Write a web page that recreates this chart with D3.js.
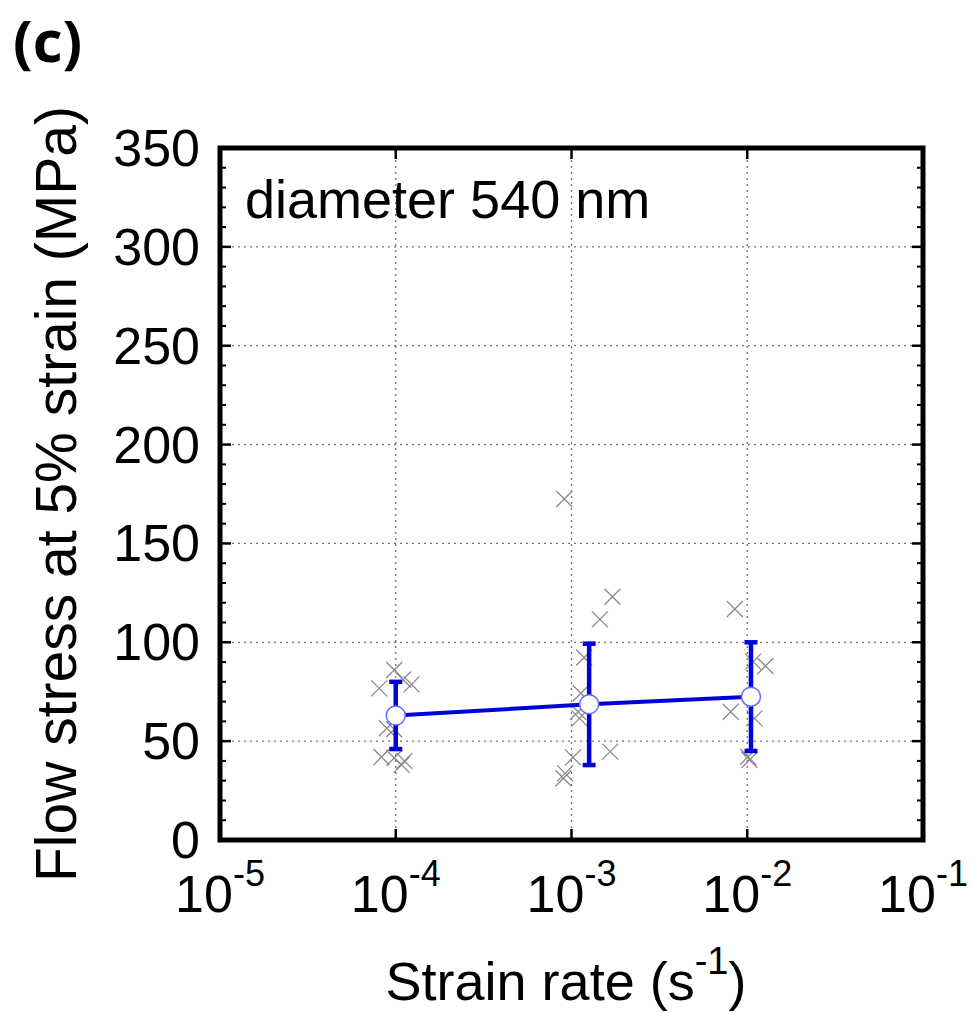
<!DOCTYPE html>
<html>
<head>
<meta charset="utf-8">
<script src="https://cdn.jsdelivr.net/npm/d3@7"></script>
<style>
    body { margin: 0; background: #fff; }
    svg text { font-family: "Liberation Sans", Arial, sans-serif; fill: #000; }
    .grid line { stroke: #707070; stroke-width: 1.3; stroke-dasharray: 2,4; }
    .spine { fill: none; stroke: #000; stroke-width: 5; }
    .tick-mark { stroke: #000; }
    .cross { stroke: #8a8a8a; stroke-width: 1.3; }
    .mean.line { fill: none; stroke: #0000d8; stroke-width: 4; }
    .errorbar { stroke: #0000d8; stroke-width: 4.5; }
    .mean.circle { fill: #fff; stroke: #6a6aff; stroke-width: 1.5; }
</style>
</head>
<body>
<svg id="chart" width="974" height="1013"></svg>
<script>
// individual tests (strain rate in 1/s, flow stress in MPa)
const rates = [
    8.05e-5, 9.8e-5, 1.10e-4, 1.23e-4, 8.9e-5, 9.8e-5, 8.3e-5, 9.8e-5, 1.08e-4, 1.12e-4,
    9.1e-4, 1.71e-3, 1.45e-3, 1.18e-3, 1.13e-3, 1.09e-3, 1.11e-3, 1.66e-3, 1.02e-3, 9.2e-4, 9.0e-4,
    8.5e-3, 1.08e-2, 1.27e-2, 8.05e-3, 1.10e-2, 1.01e-2, 1.03e-2
];
const stresses = [
    76.7, 86, 81.2, 78.7, 56.5, 56, 42, 41.5, 38, 40,
    172.5, 123, 111.6, 92.3, 74.2, 64.9, 61.5, 44.7, 41.8, 33.7, 31.2,
    116.8, 90.2, 88, 64.9, 61.5, 42.1, 40.5
];

// averages with error bars
const meanRates = [1.0e-4, 1.26e-3, 1.05e-2];
const meanStress = [63, 68.6, 72.5];
const stressErr = [17, 30.7, 27.5];

const xTickExps = [-5, -4, -3, -2, -1];
const yTicks = [0, 50, 100, 150, 200, 250, 300, 350];
const yMinorTicks = d3.range(0, 351, 10);
const annotation = "diameter 540 nm";

const margin = {top: 148, right: 51, bottom: 173, left: 220};
const width = 974 - margin.left - margin.right;
const height = 1013 - margin.top - margin.bottom;

const svg = d3.select("#chart");
const chart = svg.append("g").attr("transform", "translate(" + margin.left + "," + margin.top + ")");

const x = d3.scaleLog().domain([1e-5, 1e-1]).range([0, width]);
const y = d3.scaleLinear().domain([0, 350]).range([height, 0]);

// grid (dotted) at the inner major ticks
const grid = chart.append("g").attr("class", "grid");
grid.selectAll(".gx").data(xTickExps.slice(1, -1)).enter().append("line")
    .attr("x1", d => x(Math.pow(10, d))).attr("x2", d => x(Math.pow(10, d)))
    .attr("y1", 0).attr("y2", height);
grid.selectAll(".gy").data(yTicks.slice(1, -1)).enter().append("line")
    .attr("x1", 0).attr("x2", width)
    .attr("y1", d => y(d)).attr("y2", d => y(d));

// ticks point inward on all four sides
const ticks = chart.append("g");
yMinorTicks.forEach(v => {
    const major = v % 50 === 0;
    const len = major ? 11 : 6;
    [[0, len], [width, width - len]].forEach(p => {
        ticks.append("line").attr("class", "tick-mark")
            .attr("x1", p[0]).attr("x2", p[1]).attr("y1", y(v)).attr("y2", y(v))
            .attr("stroke-width", major ? 2.5 : 2);
    });
});
xTickExps.forEach(e => {
    const px = x(Math.pow(10, e));
    [[height, height - 11], [0, 11]].forEach(p => {
        ticks.append("line").attr("class", "tick-mark")
            .attr("x1", px).attr("x2", px).attr("y1", p[0]).attr("y2", p[1])
            .attr("stroke-width", 2.5);
    });
});

// tick labels
chart.append("g").selectAll("text").data(yTicks).enter().append("text")
    .attr("x", -20).attr("y", d => y(d))
    .attr("text-anchor", "end").attr("dominant-baseline", "central")
    .style("font-size", "52px")
    .text(d => d);

const xl = chart.append("g").selectAll("text").data(xTickExps).enter().append("text")
    .attr("x", d => x(Math.pow(10, d))).attr("y", height + 72)
    .attr("text-anchor", "middle")
    .style("font-size", "52px");
xl.append("tspan").text("10");
xl.append("tspan").attr("dy", -26).style("font-size", "36px").text(d => String(d));

// individual measurements
const cross = 8;
chart.append("g").selectAll("path").data(rates).enter().append("path")
    .attr("class", "cross")
    .attr("d", (d, i) => {
        const cx = x(d), cy = y(stresses[i]);
        return "M" + (cx - cross) + "," + (cy - cross) + "L" + (cx + cross) + "," + (cy + cross) +
               "M" + (cx - cross) + "," + (cy + cross) + "L" + (cx + cross) + "," + (cy - cross);
    });

// error bars
const eb = chart.append("g").selectAll("g").data(meanRates).enter().append("g").attr("class", "errorbar");
eb.append("line")
    .attr("x1", d => x(d)).attr("x2", d => x(d))
    .attr("y1", (d, i) => y(meanStress[i] + stressErr[i]))
    .attr("y2", (d, i) => y(meanStress[i] - stressErr[i]));
[1, -1].forEach(s => {
    eb.append("line")
        .attr("x1", d => x(d) - 6.5).attr("x2", d => x(d) + 6.5)
        .attr("y1", (d, i) => y(meanStress[i] + s * stressErr[i]))
        .attr("y2", (d, i) => y(meanStress[i] + s * stressErr[i]));
});

// mean line + markers
const line = d3.line().x(d => x(d[0])).y(d => y(d[1]));
chart.append("path").attr("class", "mean line")
    .datum(meanRates.map((r, i) => [r, meanStress[i]]))
    .attr("d", line);
chart.append("g").selectAll("circle").data(meanRates).enter().append("circle")
    .attr("class", "mean circle")
    .attr("r", 9.5)
    .attr("cx", d => x(d))
    .attr("cy", (d, i) => y(meanStress[i]));

// frame
chart.append("rect").attr("class", "spine").attr("width", width).attr("height", height);

// annotation
chart.append("text").attr("x", 25).attr("y", 70)
    .style("font-size", "54px").text(annotation);

// axis titles
svg.append("text")
    .attr("transform", "translate(76," + (margin.top + height / 2) + ") rotate(-90)")
    .attr("text-anchor", "middle")
    .style("font-size", "57px")
    .text("Flow stress at 5% strain (MPa)");

const xt = svg.append("text").attr("x", 566).attr("y", 1000)
    .attr("text-anchor", "middle").style("font-size", "54px");
xt.append("tspan").text("Strain rate (s");
xt.append("tspan").attr("dy", -26).style("font-size", "38px").text("-1");
xt.append("tspan").attr("dy", 26).text(")");

// panel label
svg.append("text").attr("x", 13).attr("y", 62)
    .style("font-family", "'Open Sans', sans-serif").style("font-weight", 700)
    .style("font-size", "58px").text("(c)");
</script>
</body>
</html>
